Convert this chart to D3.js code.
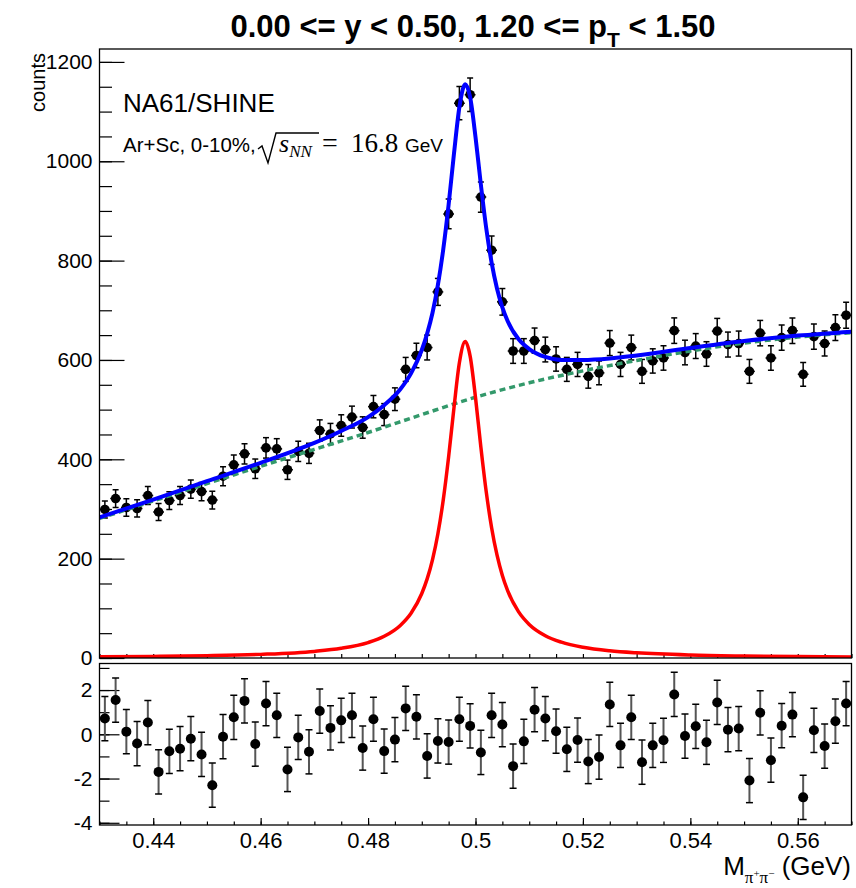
<!DOCTYPE html>
<html>
<head>
<meta charset="utf-8">
<script src="https://cdn.jsdelivr.net/npm/d3@7"></script>
<style>
  body { margin: 0; background: #fff; }
  svg { font-family: "Liberation Sans", Arial, Helvetica, sans-serif; }
</style>
</head>
<body>
<div id="chart"></div>
<script>
// invariant mass bin centres (GeV), 2 MeV bins
const massX = [0.431, 0.433, 0.435, 0.437, 0.439, 0.441, 0.443, 0.445, 0.447, 0.449,
  0.451, 0.453, 0.455, 0.457, 0.459, 0.461, 0.463, 0.465, 0.467, 0.469,
  0.471, 0.473, 0.475, 0.477, 0.479, 0.481, 0.483, 0.485, 0.487, 0.489,
  0.491, 0.493, 0.495, 0.497, 0.499, 0.501, 0.503, 0.505, 0.507, 0.509,
  0.511, 0.513, 0.515, 0.517, 0.519, 0.521, 0.523, 0.525, 0.527, 0.529,
  0.531, 0.533, 0.535, 0.537, 0.539, 0.541, 0.543, 0.545, 0.547, 0.549,
  0.551, 0.553, 0.555, 0.557, 0.559, 0.561, 0.563, 0.565, 0.567, 0.569];
const binHalf = 0.001;

// entries per bin
const counts = [299, 321, 303, 301, 327, 294, 317, 327, 340, 335,
  318, 366, 389, 411, 381, 423, 421, 379, 416, 412,
  458, 451, 468, 485, 464, 506, 490, 521, 581, 609,
  625, 737, 894, 1117, 1134, 928, 821, 717, 618, 618,
  639, 621, 602, 581, 591, 567, 574, 634, 591, 625,
  577, 598, 604, 659, 615, 628, 612, 658, 631, 633,
  577, 654, 604, 645, 659, 571, 647, 633, 665, 690];

// (data - fit) / error
const pulls = [0.71, 1.55, 0.12, -0.42, 0.53, -1.70, -0.77, -0.65, -0.20, -0.91,
  -2.30, -0.11, 0.77, 1.51, -0.44, 1.39, 0.86, -1.59, -0.14, -0.79,
  1.05, 0.29, 0.63, 0.86, -0.62, 0.68, -0.76, -0.24, 1.17, 0.79,
  -0.98, -0.30, -0.35, 0.68, 0.38, -0.82, 0.86, 0.44, -1.44, -0.32,
  1.11, 0.71, 0.14, -0.68, -0.26, -1.23, -1.03, 1.35, -0.50, 0.77,
  -1.26, -0.50, -0.27, 1.80, -0.08, 0.36, -0.36, 1.44, 0.21, 0.26,
  -2.09, 0.97, -1.17, 0.39, 0.89, -2.85, 0.18, -0.53, 0.59, 1.39];

// fit curves, sampled off the plot
const fitX = [0.43, 0.44, 0.45, 0.46, 0.47, 0.475, 0.48, 0.483, 0.486, 0.488,
  0.490, 0.491, 0.492, 0.493, 0.494, 0.495, 0.496, 0.497, 0.4981, 0.499,
  0.500, 0.501, 0.502, 0.503, 0.504, 0.505, 0.506, 0.508, 0.510, 0.513,
  0.516, 0.52, 0.525, 0.53, 0.54, 0.55, 0.56, 0.57];
const signalY = [2.3, 3.2, 4.6, 7.3, 13.3, 19.5, 31.1, 43.7, 65.6, 90.1,
  129.9, 159.3, 198.2, 250.1, 318.5, 405.3, 504.6, 594.2, 637, 607.7,
  524.4, 424.6, 334.4, 262.3, 207.4, 166.2, 135.2, 93.3, 67.6, 44.8,
  31.8, 21.6, 14.5, 10.4, 6.0, 4.0, 2.8, 2.1];
const totalY = [283, 319, 356, 393, 433, 457, 485, 509, 541, 573,
  620, 653, 695, 751, 823, 913, 1016, 1109, 1155, 1129,
  1049, 953, 865, 796, 744, 706, 678, 642, 622, 606,
  600, 600, 603, 609, 624, 638, 649, 657];
const bkgX = [0.43, 0.44, 0.45, 0.46, 0.47, 0.48, 0.49, 0.50, 0.51, 0.52, 0.53, 0.54, 0.55, 0.56, 0.57];
const bkgY = [281, 316, 351, 386, 420, 454, 490, 525, 554, 578, 599, 618, 634, 646, 655];

// axis ticks
const xMajor = [0.44, 0.46, 0.48, 0.50, 0.52, 0.54, 0.56];
const xLabels = ["0.44", "0.46", "0.48", "0.5", "0.52", "0.54", "0.56"];
const yTopMajor = [0, 200, 400, 600, 800, 1000, 1200];
const yBotMajor = [-4, -2, 0, 2];

const W = 856, H = 888;
const fx0 = 99.5, fx1 = 851.5;
const topY0 = 49, topY1 = 658;
const botY0 = 663.5, botY1 = 825;
const SANS = '"Liberation Sans", Arial, Helvetica, sans-serif';
const SERIF = '"Liberation Serif", "Times New Roman", serif';

const x = d3.scaleLinear().domain([0.43, 0.57]).range([fx0, fx1]);
const yTop = d3.scaleLinear().domain([0, 1226]).range([topY1, topY0]);
const yBot = d3.scaleLinear().domain([-4.1, 3.2]).range([botY1, botY0]);

const svg = d3.select('#chart').append('svg')
    .attr('width', W).attr('height', H);

const defs = svg.append('defs');
defs.append('clipPath').attr('id', 'clipTop').append('rect')
    .attr('x', fx0).attr('y', topY0).attr('width', fx1 - fx0).attr('height', topY1 - topY0);
defs.append('clipPath').attr('id', 'clipBot').append('rect')
    .attr('x', fx0).attr('y', botY0).attr('width', fx1 - fx0).attr('height', botY1 - botY0);

// ROOT-like inward ticks
function styleAxis(g, size) {
  g.select('.domain').remove();
  g.selectAll('.tick line').attr('stroke', '#000').attr('stroke-width', 1.2);
  g.selectAll('.tick text').attr('font-size', size)
      .attr('font-family', SANS).attr('fill', '#000');
}

// ---------- top pad ----------
const topPad = svg.append('g');

topPad.append('g').attr('transform', `translate(${fx0},0)`)
    .call(d3.axisLeft(yTop).tickValues(d3.range(0, 1226, 50)).tickSize(-12.5).tickFormat(''))
    .call(g => styleAxis(g, 0));
topPad.append('g').attr('transform', `translate(${fx0},0)`)
    .call(d3.axisLeft(yTop).tickValues(yTopMajor).tickSize(-25).tickPadding(7).tickFormat(d3.format('d')))
    .call(g => styleAxis(g, 21));
topPad.append('g').attr('transform', `translate(0,${topY1})`)
    .call(d3.axisBottom(x).tickValues(d3.range(0.43, 0.5701, 0.005)).tickSize(-4).tickFormat(''))
    .call(g => styleAxis(g, 0));

const pts = topPad.append('g').attr('clip-path', 'url(#clipTop)');
const pg = pts.selectAll('g.pt').data(massX.map((m, i) => ({ m, v: counts[i], e: Math.sqrt(counts[i]) })))
    .enter().append('g').attr('class', 'pt');
pg.append('line')
    .attr('x1', d => x(d.m - binHalf)).attr('x2', d => x(d.m + binHalf))
    .attr('y1', d => yTop(d.v)).attr('y2', d => yTop(d.v))
    .attr('stroke', '#000').attr('stroke-width', 1.5);
pg.append('line')
    .attr('x1', d => x(d.m)).attr('x2', d => x(d.m))
    .attr('y1', d => yTop(d.v - d.e)).attr('y2', d => yTop(d.v + d.e))
    .attr('stroke', '#000').attr('stroke-width', 1.5);
[-1, 1].forEach(s => {
  pg.append('line')
      .attr('x1', d => x(d.m) - 3).attr('x2', d => x(d.m) + 3)
      .attr('y1', d => yTop(d.v + s * d.e)).attr('y2', d => yTop(d.v + s * d.e))
      .attr('stroke', '#000').attr('stroke-width', 1.5);
});
pg.append('circle')
    .attr('cx', d => x(d.m)).attr('cy', d => yTop(d.v)).attr('r', 4.8).attr('fill', '#000');

const curves = topPad.append('g').attr('clip-path', 'url(#clipTop)');
const lineTop = d3.line().x(d => x(d[0])).y(d => yTop(d[1])).curve(d3.curveMonotoneX);
curves.append('path')
    .attr('d', lineTop(bkgX.map((m, i) => [m, bkgY[i]])))
    .attr('fill', 'none').attr('stroke', '#33996b').attr('stroke-width', 3.5)
    .attr('stroke-dasharray', '6,4');
curves.append('path')
    .attr('d', lineTop(fitX.map((m, i) => [m, signalY[i]])))
    .attr('fill', 'none').attr('stroke', '#ff0000').attr('stroke-width', 3.5);
curves.append('path')
    .attr('d', lineTop(fitX.map((m, i) => [m, totalY[i]])))
    .attr('fill', 'none').attr('stroke', '#0000ff').attr('stroke-width', 4);

topPad.append('rect')
    .attr('x', fx0).attr('y', topY0).attr('width', fx1 - fx0).attr('height', topY1 - topY0)
    .attr('fill', 'none').attr('stroke', '#000').attr('stroke-width', 1.3);

// ---------- bottom pad ----------
const botPad = svg.append('g');

botPad.append('g').attr('transform', `translate(${fx0},0)`)
    .call(d3.axisLeft(yBot).tickValues(d3.range(-4, 3.5, 1)).tickSize(-10).tickFormat(''))
    .call(g => styleAxis(g, 0));
botPad.append('g').attr('transform', `translate(${fx0},0)`)
    .call(d3.axisLeft(yBot).tickValues(yBotMajor).tickSize(-20).tickPadding(7).tickFormat(d => String(d)))
    .call(g => styleAxis(g, 21));
botPad.append('g').attr('transform', `translate(0,${botY1})`)
    .call(d3.axisBottom(x).tickValues(d3.range(0.43, 0.5701, 0.005)).tickSize(-3.5).tickFormat(''))
    .call(g => styleAxis(g, 0));
botPad.append('g').attr('transform', `translate(0,${botY1})`)
    .call(d3.axisBottom(x).tickValues(xMajor).tickSize(-7).tickPadding(7)
      .tickFormat((d, i) => xLabels[i]))
    .call(g => styleAxis(g, 22));

const rp = botPad.append('g').attr('clip-path', 'url(#clipBot)');
const rg = rp.selectAll('g.res').data(massX.map((m, i) => ({ m, v: pulls[i] })))
    .enter().append('g').attr('class', 'res');
rg.append('line')
    .attr('x1', d => x(d.m)).attr('x2', d => x(d.m))
    .attr('y1', d => yBot(d.v - 1)).attr('y2', d => yBot(d.v + 1))
    .attr('stroke', '#555').attr('stroke-width', 2);
[-1, 1].forEach(s => {
  rg.append('line')
      .attr('x1', d => x(d.m) - 3.5).attr('x2', d => x(d.m) + 3.5)
      .attr('y1', d => yBot(d.v + s)).attr('y2', d => yBot(d.v + s))
      .attr('stroke', '#000').attr('stroke-width', 1.5);
});
rg.append('circle')
    .attr('cx', d => x(d.m)).attr('cy', d => yBot(d.v)).attr('r', 5).attr('fill', '#000');

botPad.append('rect')
    .attr('x', fx0).attr('y', botY0).attr('width', fx1 - fx0).attr('height', botY1 - botY0)
    .attr('fill', 'none').attr('stroke', '#000').attr('stroke-width', 1.3);

// ---------- texts ----------
const title = svg.append('text').attr('x', 473).attr('y', 37)
    .attr('text-anchor', 'middle').attr('font-size', 31).attr('font-weight', 'bold');
title.append('tspan').text('0.00 <= y < 0.50, 1.20 <= p');
title.append('tspan').attr('font-size', 21).attr('dy', 10).text('T');
title.append('tspan').attr('font-size', 31).attr('dy', -10).text(' < 1.50');

svg.append('text').attr('transform', 'translate(45,53) rotate(-90)')
    .attr('text-anchor', 'end').attr('font-size', 20).text('counts');

svg.append('text').attr('x', 123).attr('y', 112).attr('font-size', 26).text('NA61/SHINE');

svg.append('text').attr('x', 123).attr('y', 152).attr('font-size', 20.5).text('Ar+Sc, 0-10%,');
svg.append('path')
    .attr('d', 'M258,149 L262,146 L268,163 L276,133 L319,133')
    .attr('fill', 'none').attr('stroke', '#000').attr('stroke-width', 1.4);
const sq = svg.append('text').attr('x', 279).attr('y', 152)
    .attr('font-family', SERIF);
sq.append('tspan').attr('font-size', 26).attr('font-style', 'italic').text('s');
sq.append('tspan').attr('font-size', 17).attr('font-style', 'italic').attr('dy', 5).text('NN');
svg.append('text').attr('x', 322).attr('y', 152).attr('font-family', SERIF)
    .attr('font-size', 28).text('=');
svg.append('text').attr('x', 351).attr('y', 152).attr('font-family', SERIF)
    .attr('font-size', 27).text('16.8');
svg.append('text').attr('x', 405).attr('y', 152).attr('font-size', 19).text('GeV');

const xt = svg.append('text').attr('x', 851).attr('y', 875)
    .attr('text-anchor', 'end').attr('font-size', 26);
xt.append('tspan').text('M');
xt.append('tspan').attr('font-family', SERIF).attr('font-size', 17).attr('dy', 8).text('\u03c0');
xt.append('tspan').attr('font-family', SERIF).attr('font-size', 11).attr('dy', -6).text('+');
xt.append('tspan').attr('font-family', SERIF).attr('font-size', 17).attr('dy', 6).text('\u03c0');
xt.append('tspan').attr('font-family', SERIF).attr('font-size', 11).attr('dy', -6).text('\u2212');
xt.append('tspan').attr('font-size', 26).attr('dy', -2).text(' (GeV)');
</script>
</body>
</html>
